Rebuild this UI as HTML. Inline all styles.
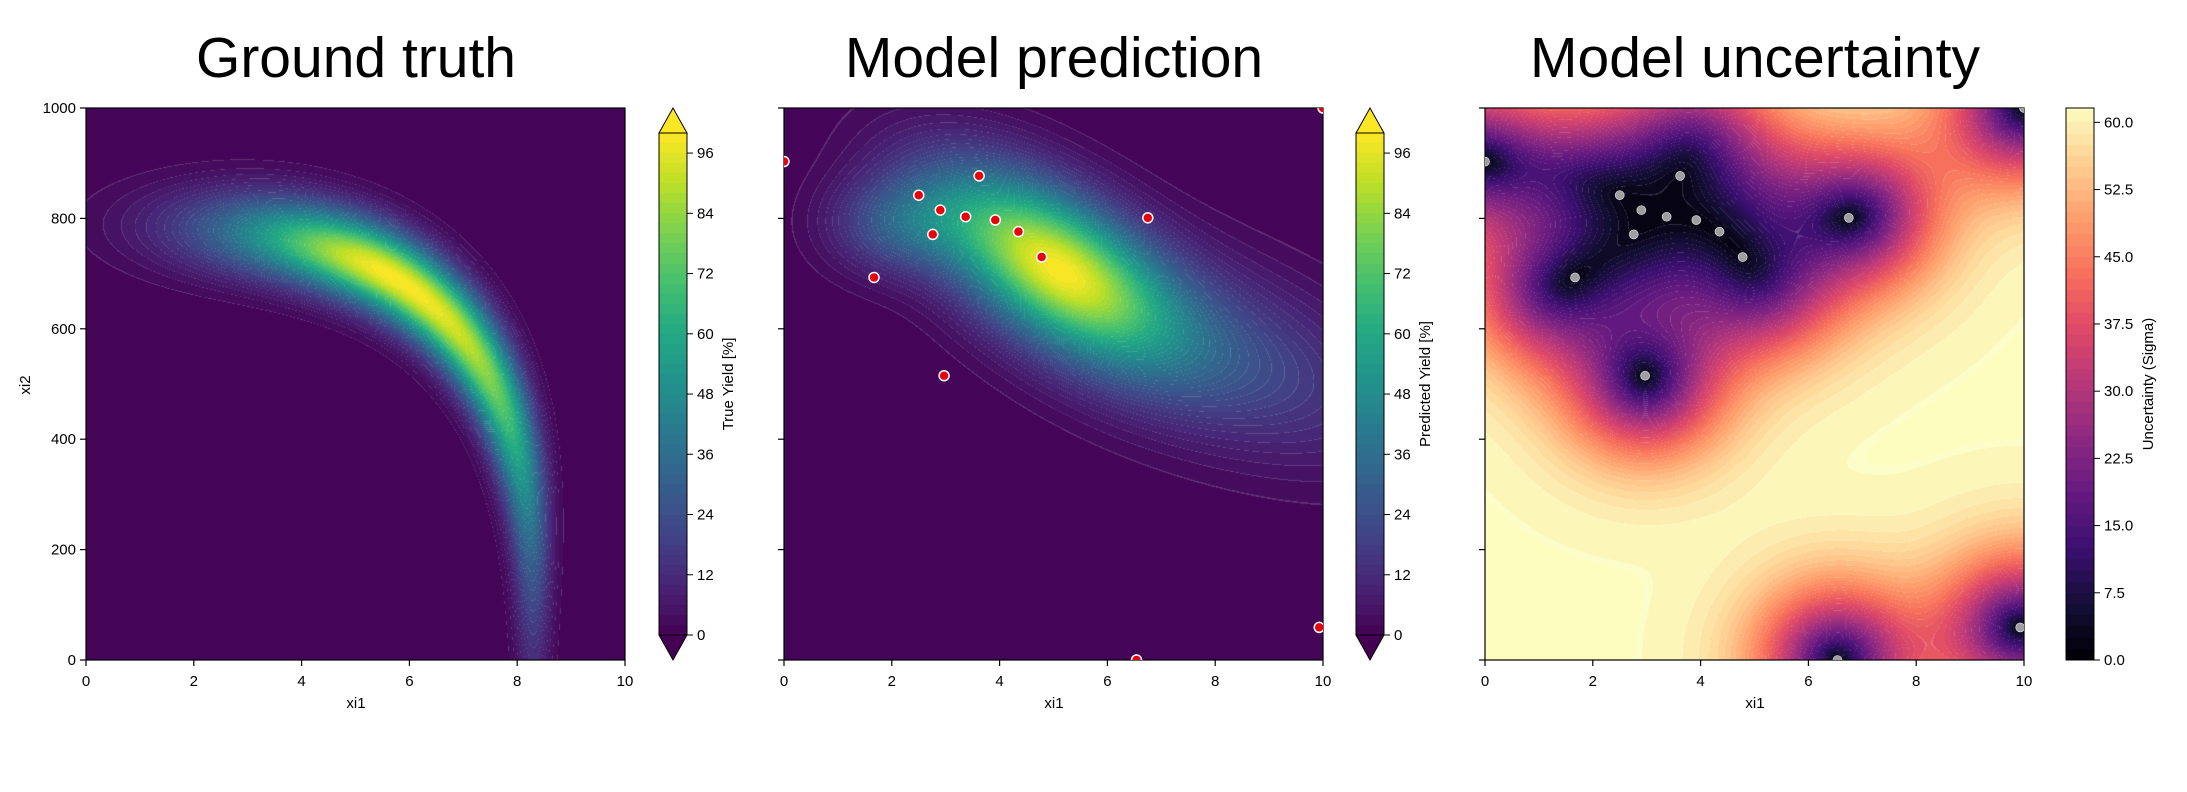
<!DOCTYPE html>
<html><head><meta charset="utf-8">
<style>
html,body{margin:0;padding:0;background:#fff;}
#wrap{position:relative;width:2187px;height:792px;overflow:hidden;font-family:"Liberation Sans","DejaVu Sans",sans-serif;}
canvas{position:absolute;}
svg{position:absolute;left:0;top:0;}
</style></head><body>
<div id="wrap">
<canvas id="c1" width="539" height="552" style="left:86px;top:108px"></canvas>
<canvas id="c2" width="539" height="552" style="left:784px;top:108px"></canvas>
<canvas id="c3" width="539" height="552" style="left:1485px;top:108px"></canvas>
<canvas id="cb1" width="28" height="502" style="left:659px;top:133px"></canvas>
<canvas id="cb2" width="28" height="502" style="left:1356px;top:133px"></canvas>
<canvas id="cb3" width="28" height="552" style="left:2066px;top:108px"></canvas>
<svg id="ov" width="2187" height="792" xmlns="http://www.w3.org/2000/svg"></svg>
</div>
<script>
var VIR=[[0,68,1,84],[.1,72,36,117],[.2,65,68,135],[.3,53,95,141],[.4,42,120,142],[.5,33,145,140],[.6,34,168,132],[.7,68,191,112],[.8,122,209,81],[.9,189,223,38],[1,253,231,37]];
var MAG=[[0,0,0,4],[.1,20,14,54],[.2,59,15,112],[.3,100,26,128],[.4,140,41,129],[.5,183,55,121],[.6,222,73,104],[.7,247,112,92],[.8,254,159,109],[.9,254,207,146],[1,252,253,191]];
function cmap(m,t){if(t<0)t=0;if(t>1)t=1;for(var i=1;i<m.length;i++){if(t<=m[i][0]){var a=m[i-1],b=m[i],f=(t-a[0])/(b[0]-a[0]);return [a[1]+f*(b[1]-a[1]),a[2]+f*(b[2]-a[2]),a[3]+f*(b[3]-a[3])];}}return m[m.length-1].slice(1);}
var W=539,H=552;
function field(id,fn,m,vmax,step){
 var c=document.getElementById(id),ctx=c.getContext('2d'),img=ctx.createImageData(W,H),d=img.data;
 for(var j=0;j<H;j++){var y=1000*(1-(j+.5)/H);for(var i=0;i<W;i++){var x=10*(i+.5)/W;var v=fn(x,y);
  var q=Math.floor(v/step)*step+step/2;if(v<0)q=0;
  var col=cmap(m,q/vmax);var k=(j*W+i)*4;
  var fr=(v/step)-Math.floor(v/step);
  var line=(v>step*0.5&&(fr<0.06))?0.15:0;
  d[k]=col[0]+(255-col[0])*line;d[k+1]=col[1]+(255-col[1])*line;d[k+2]=col[2]+(255-col[2])*line;d[k+3]=255;}}
 ctx.putImageData(img,0,0);}
function gt(x,y){var u=x/10/.83,v=y/1000/.79;var r=Math.pow(Math.pow(u,3)+Math.pow(v,3),1/3);var th=Math.atan2(v,u)*180/Math.PI;
 var w=0.04+0.06*Math.pow(Math.sin(th*Math.PI/180),2);var amp=th<52?Math.exp(-Math.pow((th-52)/36,2)):Math.exp(-Math.pow((th-52)/20,2));
 return 100*amp*Math.exp(-Math.pow((r-1)/w,2));}
function pred(x,y){
 var dx=x-5,dy=(y-715)+45*(x-5);
 var a=92*Math.exp(-dx*dx/(2*1.5*1.5)-dy*dy/(2*95*95));
 var dx2=x-8,dy2=(y-560)+30*(x-8);
 var b=22*Math.exp(-dx2*dx2/(2*2.2*2.2)-dy2*dy2/(2*110*110));
 var dx3=x-2.2,dy3=y-790;
 var c=25*Math.exp(-dx3*dx3/(2*0.9*0.9)-dy3*dy3/(2*60*60));
 return a+b+c;}
var PTS=[[0,903],[3.62,877],[2.5,842],[2.9,815],[3.37,803],[3.92,797],[4.35,776],[2.76,771],[4.78,730],[6.75,801],[1.67,693],[2.97,515],[9.93,59],[6.54,0],[10,1000]];
var LX=1.65,LY=150,N=PTS.length;
function kern(a,b,c,d){var dx=(a-c)/LX,dy=(b-d)/LY;return Math.exp(-(dx*dx+dy*dy)/2);}
var K=[],I=[];for(var i=0;i<N;i++){K[i]=[];I[i]=[];for(var j=0;j<N;j++){K[i][j]=kern(PTS[i][0],PTS[i][1],PTS[j][0],PTS[j][1])+(i==j?2e-3:0);I[i][j]=(i==j)?1:0;}}
for(var c=0;c<N;c++){var piv=c;for(var r=c+1;r<N;r++)if(Math.abs(K[r][c])>Math.abs(K[piv][c]))piv=r;
 var t=K[c];K[c]=K[piv];K[piv]=t;t=I[c];I[c]=I[piv];I[piv]=t;
 var f=K[c][c];for(var j=0;j<N;j++){K[c][j]/=f;I[c][j]/=f;}
 for(var r=0;r<N;r++)if(r!=c){var g=K[r][c];if(g!==0)for(var j=0;j<N;j++){K[r][j]-=g*K[c][j];I[r][j]-=g*I[c][j];}}}
var kv=new Float64Array(N);
function unc(x,y){for(var i=0;i<N;i++)kv[i]=kern(x,y,PTS[i][0],PTS[i][1]);
 var q=0;for(var i=0;i<N;i++){var s=0,row=I[i];for(var j=0;j<N;j++)s+=row[j]*kv[j];q+=kv[i]*s;}
 var v=1-q;if(v<0)v=0;return 61.5*Math.sqrt(v);}
field('c1',gt,VIR,100,2);
field('c2',pred,VIR,100,2);
field('c3',unc,MAG,61.6,1.25);
function cbar(id,m,vmax,step,h){var c=document.getElementById(id),ctx=c.getContext('2d');
 for(var j=0;j<h;j++){var v=vmax*(1-(j+.5)/h);var q=Math.floor(v/step)*step+step/2;var col=cmap(m,q/vmax);
 ctx.fillStyle='rgb('+Math.round(col[0])+','+Math.round(col[1])+','+Math.round(col[2])+')';ctx.fillRect(0,j,28,1);}}
cbar('cb1',VIR,100,2,502);cbar('cb2',VIR,100,2,502);cbar('cb3',MAG,61.6,1.25,552);
var s='';
function T(x,y,txt,sz,anc,extra){s+='<text x="'+x+'" y="'+y+'" font-size="'+sz+'" text-anchor="'+(anc||'middle')+'" '+(extra||'')+' fill="#000">'+txt+'</text>';}
var AX=[86,784,1485];var titles=['Ground truth','Model prediction','Model uncertainty'];
for(var p=0;p<3;p++){var L=AX[p];
 s+='<rect x="'+(L)+'" y="108" width="539" height="552" fill="none" stroke="#000" stroke-width="1.2"/>';
 T(L+270,77,titles[p],57);
 for(var k=0;k<=5;k++){var x=L+k*539/5;s+='<line x1="'+x+'" y1="660" x2="'+x+'" y2="666" stroke="#000" stroke-width="1.2"/>';T(x,686,k*2,15);
  var y=660-k*552/5;s+='<line x1="'+L+'" y1="'+y+'" x2="'+(L-6)+'" y2="'+y+'" stroke="#000" stroke-width="1.2"/>';
  if(p==0)T(L-10,y+5,k*200,15,'end');}
 T(L+270,708,'xi1',15);}
s+='<text x="30" y="385" font-size="15" text-anchor="middle" transform="rotate(-90 30 385)">xi2</text>';
for(var i=0;i<PTS.length;i++){var px=784+PTS[i][0]*53.9,py=660-PTS[i][1]*0.552;
 s+='<circle cx="'+px+'" cy="'+py+'" r="5" fill="#e8000b" stroke="#fff" stroke-width="1.5" clip-path="url(#cp2)"/>';
 var qx=1485+PTS[i][0]*53.9;s+='<circle cx="'+qx+'" cy="'+py+'" r="4.5" fill="#b0b0b0" stroke="#fff" stroke-width="0.6" opacity="0.9" clip-path="url(#cp3)"/>';}
s='<defs><clipPath id="cp2"><rect x="784" y="108" width="539" height="552"/></clipPath><clipPath id="cp3"><rect x="1485" y="108" width="539" height="552"/></clipPath></defs>'+s;
var CB=[659,1356],lab=['True Yield [%]','Predicted Yield [%]'];
for(var c=0;c<2;c++){var X=CB[c];
 s+='<polygon points="'+X+',133 '+(X+14)+',108 '+(X+28)+',133" fill="#fde725" stroke="#000" stroke-width="1"/>';
 s+='<polygon points="'+X+',635 '+(X+14)+',660 '+(X+28)+',635" fill="#440154" stroke="#000" stroke-width="1"/>';
 s+='<line x1="'+X+'" y1="133" x2="'+X+'" y2="635" stroke="#000"/><line x1="'+(X+28)+'" y1="133" x2="'+(X+28)+'" y2="635" stroke="#000"/>';
 for(var v=0;v<=96;v+=12){var y=635-v*5.02;s+='<line x1="'+(X+28)+'" y1="'+y+'" x2="'+(X+34)+'" y2="'+y+'" stroke="#000"/>';T(X+38,y+5,v,15,'start');}
 var lx=X+74;s+='<text x="'+lx+'" y="384" font-size="15" text-anchor="middle" transform="rotate(-90 '+lx+' 384)">'+lab[c]+'</text>';}
var X=2066;s+='<rect x="'+X+'" y="108" width="28" height="552" fill="none" stroke="#000"/>';
for(var v=0;v<=60;v+=7.5){var y=660-v*552/61.6;s+='<line x1="'+(X+28)+'" y1="'+y+'" x2="'+(X+34)+'" y2="'+y+'" stroke="#000"/>';T(X+38,y+5,v.toFixed(1),15,'start');}
s+='<text x="2153" y="384" font-size="15" text-anchor="middle" transform="rotate(-90 2153 384)">Uncertainty (Sigma)</text>';
document.getElementById('ov').innerHTML=s;
</script>
</body></html>
